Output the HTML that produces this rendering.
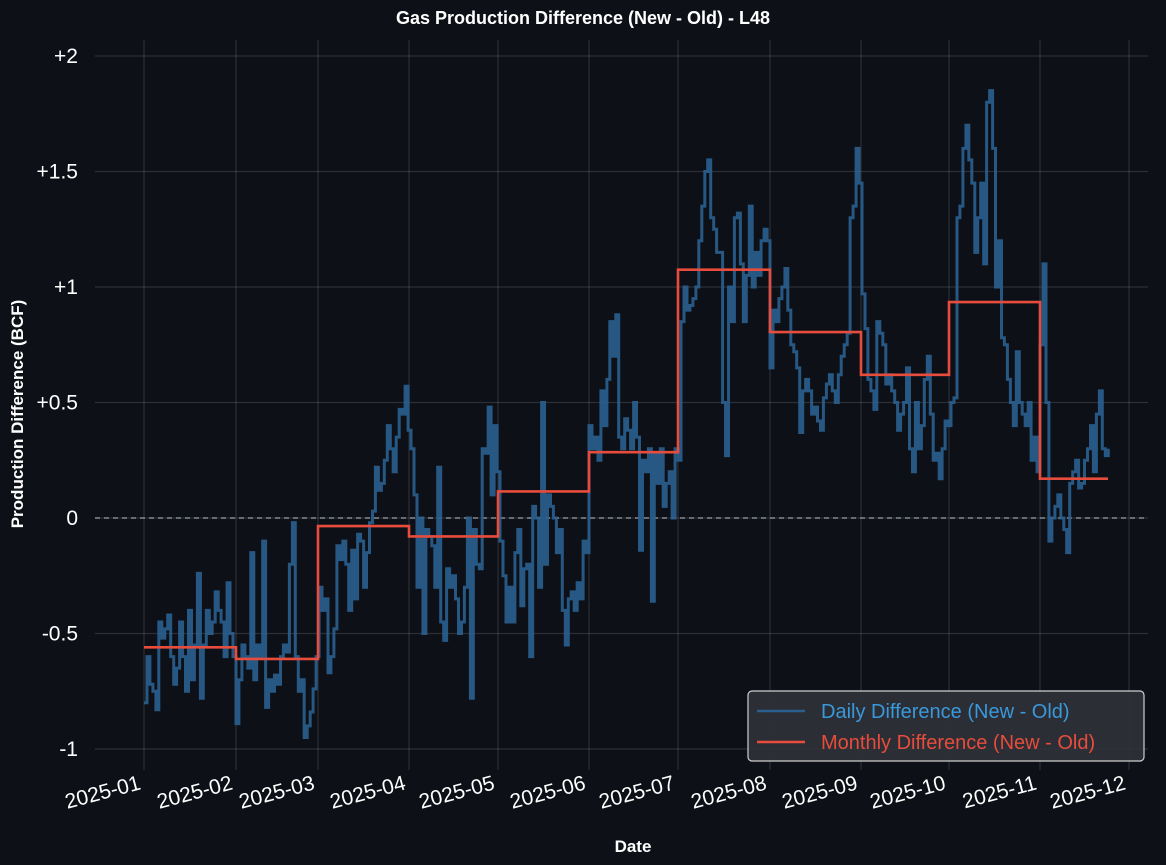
<!DOCTYPE html>
<html><head><meta charset="utf-8"><style>
body{margin:0;background:#0d1117;}
svg{display:block;font-family:"Liberation Sans",Arial,sans-serif;}
</style></head><body>
<svg id="s" width="1166" height="865" viewBox="0 0 1166 865" xmlns="http://www.w3.org/2000/svg">
<rect width="1166" height="865" fill="#0d1117"/>
<g id="grid" stroke="rgba(255,255,255,0.13)" stroke-width="1.2"></g>
<line x1="95" x2="1148" y1="518" y2="518" stroke="#9aa0a6" stroke-width="1.2" stroke-dasharray="5,4"/>
<path id="daily" fill="none" stroke="#2a5f8f" stroke-width="3" stroke-opacity="0.9" stroke-linejoin="miter"/>
<path id="monthly" fill="none" stroke="#e74c3c" stroke-width="2.6"/>
<g id="labels" fill="#ffffff" font-size="21"></g>
<text x="583" y="24" text-anchor="middle" fill="#fff" font-size="18" font-weight="bold">Gas Production Difference (New - Old) - L48</text>
<text x="633" y="852" text-anchor="middle" fill="#fff" font-size="17" font-weight="bold">Date</text>
<text transform="translate(23,414) rotate(-90)" text-anchor="middle" fill="#fff" font-size="17" font-weight="bold">Production Difference (BCF)</text>
<rect x="748" y="691" width="396" height="70" rx="4" fill="#2f3237" fill-opacity="0.9" stroke="#cfcfcf" stroke-width="1.2"/>
<line x1="757" x2="805" y1="711" y2="711" stroke="#2a5f8f" stroke-width="2.6"/>
<line x1="757" x2="805" y1="742" y2="742" stroke="#e74c3c" stroke-width="2.6"/>
<text x="821" y="718" fill="#3a98db" font-size="20">Daily Difference (New - Old)</text>
<text x="821" y="749" fill="#e74c3c" font-size="20">Monthly Difference (New - Old)</text>
</svg>
<script>
const X=d=>144+d*2.967, Y=v=>518-v*231;
const months=[144,236,318,409,498,589,678,770,861,949,1040,1129];
const names=["2025-01","2025-02","2025-03","2025-04","2025-05","2025-06","2025-07","2025-08","2025-09","2025-10","2025-11","2025-12"];
let g=document.getElementById('grid'),L=document.getElementById('labels'),h='',l='';
months.forEach((x,i)=>{h+=`<line x1="${x}" x2="${x}" y1="40" y2="770"/>`;
 l+=`<text transform="translate(${x-6},${775}) rotate(-15)" text-anchor="end" dominant-baseline="hanging">${names[i]}</text>`;});
[[2,"+2"],[1.5,"+1.5"],[1,"+1"],[0.5,"+0.5"],[0,"0"],[-0.5,"-0.5"],[-1,"-1"]].forEach(([v,t])=>{
 h+=`<line x1="95" x2="1148" y1="${Y(v)}" y2="${Y(v)}"/>`;
 l+=`<text x="78" y="${Y(v)+7}" text-anchor="end">${t}</text>`;});
g.innerHTML=h;L.innerHTML=l;
const d=[-0.8,-0.6,-0.72,-0.75,-0.83,-0.45,-0.52,-0.48,-0.42,-0.6,-0.72,-0.65,-0.45,-0.6,-0.75,-0.4,-0.7,-0.55,-0.24,-0.78,-0.55,-0.4,-0.5,-0.45,-0.32,-0.4,-0.45,-0.6,-0.28,-0.5,-0.6,
-0.89,-0.7,-0.55,-0.6,-0.65,-0.15,-0.7,-0.55,-0.6,-0.1,-0.82,-0.7,-0.75,-0.68,-0.72,-0.6,-0.55,-0.58,-0.2,-0.02,-0.6,-0.75,-0.7,-0.95,-0.9,-0.84,-0.74,-0.6,
-0.3,-0.4,-0.35,-0.67,-0.6,-0.48,-0.12,-0.18,-0.1,-0.2,-0.4,-0.14,-0.35,-0.07,-0.1,-0.3,-0.15,-0.02,0.03,0.22,0.12,0.15,0.25,0.4,0.3,0.2,0.35,0.47,0.45,0.57,0.38,
0.3,0.1,-0.3,0.0,-0.5,-0.05,-0.08,-0.12,-0.3,0.22,-0.45,-0.53,-0.22,-0.3,-0.25,-0.35,-0.5,-0.45,-0.3,0.0,-0.78,-0.05,-0.2,-0.22,0.3,0.28,0.48,0.1,0.4,0.2,
-0.1,-0.25,-0.45,-0.3,-0.45,-0.15,-0.05,-0.38,-0.22,-0.2,-0.6,0.05,0.0,-0.3,0.5,-0.2,0.1,0.05,0.0,-0.15,-0.05,-0.4,-0.55,-0.35,-0.32,-0.4,-0.28,-0.35,-0.1,-0.15,0.4,
0.3,0.35,0.25,0.55,0.4,0.6,0.85,0.7,0.88,0.35,0.3,0.43,0.38,0.3,0.5,0.35,-0.14,0.25,0.2,0.3,-0.36,0.28,0.15,0.3,0.05,0.15,0.2,0.0,0.3,0.25,
0.85,1.0,0.9,0.92,0.95,1.0,1.2,1.35,1.5,1.55,1.3,1.25,1.15,1.15,0.5,0.27,1.0,0.85,1.3,1.32,1.1,0.85,1.05,1.35,1.0,1.15,1.05,1.2,1.25,1.2,0.65,
0.9,0.85,0.95,1.0,1.08,0.9,0.75,0.72,0.65,0.37,0.55,0.6,0.55,0.45,0.48,0.42,0.38,0.52,0.58,0.62,0.55,0.5,0.62,0.7,0.75,0.8,1.3,1.35,1.6,1.45,0.97,
0.82,0.6,0.55,0.47,0.85,0.8,0.75,0.58,0.62,0.55,0.5,0.38,0.45,0.5,0.65,0.3,0.2,0.5,0.3,0.4,0.6,0.7,0.45,0.25,0.28,0.17,0.3,0.42,0.4,0.5,
0.52,1.3,1.35,1.6,1.7,1.55,1.45,1.15,1.3,1.45,1.1,1.8,1.85,1.6,1.0,1.2,0.78,0.75,0.6,0.5,0.4,0.72,0.5,0.45,0.4,0.5,0.25,0.35,0.2,0.75,1.1,
0.5,-0.1,0.0,0.05,0.1,0.0,-0.05,-0.15,0.15,0.2,0.25,0.13,0.15,0.25,0.3,0.4,0.2,0.45,0.55,0.3,0.27,0.3];
let p=`M${X(0)},${Y(d[0])}`;
for(let i=1;i<d.length;i++){p+=`H${X(i).toFixed(1)}V${Y(d[i]).toFixed(1)}`;}
p+=`H${X(d.length-1).toFixed(1)}`;
document.getElementById('daily').setAttribute('d',p);
const m=[-0.56,-0.61,-0.035,-0.08,0.115,0.285,1.075,0.805,0.62,0.935,0.17];
let q=`M144,${Y(m[0])}`;
for(let i=1;i<m.length;i++){q+=`H${months[i]}V${Y(m[i])}`;}
q+=`H1108`;
document.getElementById('monthly').setAttribute('d',q);
</script>
</body></html>
